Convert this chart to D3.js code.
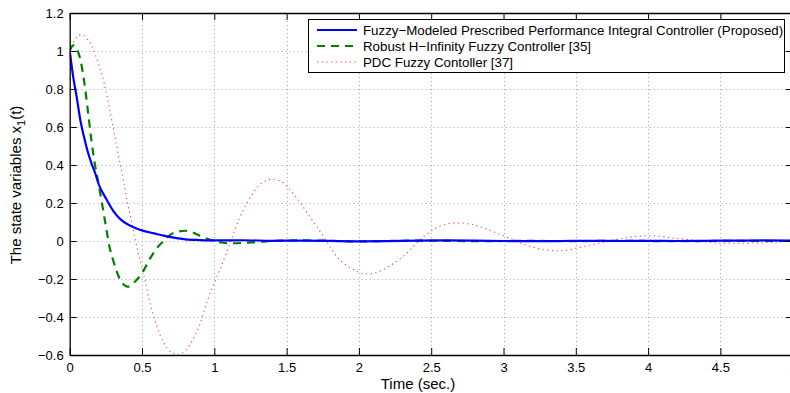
<!DOCTYPE html>
<html><head><meta charset="utf-8">
<script src="https://cdn.jsdelivr.net/npm/d3@7"></script>
<style>
html,body{margin:0;padding:0;background:#fff;}
svg{display:block;font-family:"Liberation Sans",Arial,Helvetica,sans-serif;}
</style></head><body>
<svg id="chart" width="790" height="393"></svg>
<script>
// ---- data ----
const xTicks = [0, 0.5, 1, 1.5, 2, 2.5, 3, 3.5, 4, 4.5, 5];
const yTicks = [-0.6, -0.4, -0.2, 0, 0.2, 0.4, 0.6, 0.8, 1, 1.2];
const seriesNames = [
  "Fuzzy\u2212Modeled Prescribed Performance Integral Controller (Proposed)",
  "Robust H\u2212Infinity Fuzzy Controller [35]",
  "PDC Fuzzy Contoller [37]"
];
const blueT = [0,0.025,0.05,0.075,0.1,0.125,0.15,0.175,0.2,0.25,0.3,0.35,0.4,0.45,0.5,0.55,0.6,0.65,0.7,0.75,0.8,0.9,1.0,1.2,1.4,1.6,1.8,2.0,2.2,2.4,2.6,2.8,3.0,3.2,3.4,3.6,3.8,4.0,4.2,4.4,4.6,4.8,5.0];
const blueV = [1.0,0.86,0.75,0.63,0.545,0.47,0.41,0.36,0.30,0.225,0.16,0.115,0.088,0.07,0.056,0.046,0.037,0.028,0.02,0.014,0.009,0.005,0.003,0.004,0.001,0.002,0.001,-0.002,-0.001,0.002,0.003,0.002,0.0,-0.001,0.0,0.001,0.0,0.001,0.0,0.001,0.002,0.003,0.002];
const greenT = [0,0.025,0.05,0.075,0.1,0.125,0.15,0.175,0.2,0.225,0.25,0.275,0.3,0.325,0.35,0.375,0.4,0.425,0.45,0.5,0.55,0.6,0.65,0.7,0.75,0.8,0.85,0.9,0.95,1.0,1.05,1.1,1.2,1.3,1.4,1.6,1.8,2.0,2.2,2.4,2.6,2.8,3.0,3.2,3.4,3.6,3.8,4.0,4.2,4.4,4.6,4.8,5.0];
const greenV = [1.0,1.03,1.01,0.95,0.84,0.69,0.53,0.40,0.30,0.19,0.08,-0.03,-0.10,-0.16,-0.205,-0.23,-0.24,-0.235,-0.215,-0.17,-0.10,-0.04,0.0,0.035,0.05,0.054,0.045,0.028,0.012,0.0,-0.008,-0.012,-0.01,-0.005,0.0,0.003,0.001,-0.002,0.0,0.002,0.001,-0.001,0.0,0.001,-0.001,0.0,0.001,0.0,-0.001,0.0,0.001,0.0,0.0];
const redT = [0,0.025,0.05,0.075,0.1,0.125,0.15,0.175,0.2,0.225,0.25,0.275,0.3,0.325,0.35,0.375,0.4,0.425,0.45,0.475,0.5,0.525,0.55,0.575,0.6,0.625,0.65,0.675,0.7,0.725,0.75,0.775,0.8,0.85,0.9,0.95,1.0,1.05,1.1,1.15,1.2,1.25,1.3,1.35,1.4,1.45,1.5,1.55,1.6,1.65,1.7,1.75,1.8,1.85,1.9,1.95,2.0,2.05,2.1,2.15,2.2,2.25,2.3,2.35,2.4,2.45,2.5,2.55,2.6,2.65,2.7,2.75,2.8,2.85,2.9,2.95,3.0,3.05,3.1,3.15,3.2,3.25,3.3,3.35,3.4,3.45,3.5,3.55,3.6,3.65,3.7,3.75,3.8,3.85,3.9,3.95,4.0,4.05,4.1,4.15,4.2,4.25,4.3,4.35,4.4,4.45,4.5,4.6,4.7,4.8,4.9,5.0];
const redV = [1.0,1.045,1.075,1.085,1.08,1.06,1.03,0.985,0.93,0.87,0.79,0.70,0.60,0.50,0.40,0.305,0.20,0.11,0.02,-0.065,-0.14,-0.22,-0.31,-0.38,-0.44,-0.495,-0.535,-0.565,-0.585,-0.595,-0.597,-0.59,-0.577,-0.52,-0.44,-0.32,-0.22,-0.13,-0.03,0.075,0.163,0.23,0.285,0.315,0.325,0.318,0.29,0.245,0.195,0.14,0.085,0.03,-0.03,-0.085,-0.12,-0.145,-0.165,-0.174,-0.17,-0.157,-0.137,-0.113,-0.085,-0.05,-0.01,0.025,0.052,0.075,0.088,0.094,0.095,0.091,0.085,0.072,0.058,0.042,0.028,0.012,-0.005,-0.018,-0.032,-0.042,-0.048,-0.051,-0.051,-0.047,-0.038,-0.03,-0.022,-0.014,-0.007,0.002,0.01,0.017,0.023,0.026,0.028,0.027,0.023,0.018,0.013,0.01,0.006,0.002,-0.004,-0.009,-0.011,-0.012,-0.011,-0.009,-0.005,-0.002];

// ---- layout ----
const L = 69.7, R = 792.7, T = 13, B = 355;
const svg = d3.select("#chart");
const x = d3.scaleLinear().domain([0, 5]).range([L, R]);
const y = d3.scaleLinear().domain([-0.6, 1.2]).range([B, T]);
const fmt = v => (v < 0 ? "\u2212" : "") + String(Math.abs(Math.round(v*10)/10));

// grid
const grid = svg.append("g").attr("stroke", "#a8a8a8").attr("stroke-width", 1).attr("stroke-dasharray", "1,3");
grid.selectAll(".gx").data(xTicks.filter(d => d > 0 && d < 5)).enter().append("line")
  .attr("x1", d => Math.round(x(d)) + 0.5).attr("x2", d => Math.round(x(d)) + 0.5)
  .attr("y1", T).attr("y2", B);
grid.selectAll(".gy").data(yTicks.filter(d => d > -0.6 && d < 1.2)).enter().append("line")
  .attr("y1", d => Math.round(y(d)) + 0.5).attr("y2", d => Math.round(y(d)) + 0.5)
  .attr("x1", L).attr("x2", R);

// curves
svg.append("defs").append("clipPath").attr("id", "clip").append("rect")
  .attr("x", L).attr("y", T - 1).attr("width", R - L).attr("height", B - T + 2);
const line = d3.line().x(d => x(d[0])).y(d => y(d[1])).curve(d3.curveMonotoneX);
const plot = svg.append("g").attr("clip-path", "url(#clip)");
plot.append("path").datum(redT.map((t, i) => [t, redV[i]])).attr("d", line)
  .attr("fill", "none").attr("stroke", "#ff2020").attr("stroke-width", 1.1).attr("stroke-dasharray", "1.2,3.5").attr("opacity", 0.85);
plot.append("path").datum(greenT.map((t, i) => [t, greenV[i]])).attr("d", line)
  .attr("fill", "none").attr("stroke", "#008000").attr("stroke-width", 2.2).attr("stroke-dasharray", "8,6");
plot.append("path").datum(blueT.map((t, i) => [t, blueV[i]])).attr("d", line)
  .attr("fill", "none").attr("stroke", "#0000ff").attr("stroke-width", 2.2);

// axes
const tickLen = 7;
const ax = svg.append("g").attr("font-size", 13).attr("fill", "#000");
const xAxisB = d3.axisBottom(x).tickValues(xTicks).tickSizeInner(-tickLen).tickSizeOuter(0).tickPadding(7.5).tickFormat(fmt);
const xAxisT = d3.axisTop(x).tickValues(xTicks).tickSizeInner(-tickLen).tickSizeOuter(0).tickFormat("");
const yAxisL = d3.axisLeft(y).tickValues(yTicks).tickSizeInner(-tickLen).tickSizeOuter(0).tickPadding(6).tickFormat(fmt);
const yAxisR = d3.axisRight(y).tickValues(yTicks).tickSizeInner(-tickLen).tickSizeOuter(0).tickFormat("");
function style(g){ g.selectAll("text").attr("font-family","'Liberation Sans',Arial,sans-serif").attr("font-size",13).attr("fill","#000");
  g.selectAll("line").attr("stroke","#000"); g.select(".domain").attr("stroke","#000"); }
ax.append("g").attr("transform", `translate(0,${B})`).call(xAxisB).call(style);
ax.append("g").attr("transform", `translate(0,${T})`).call(xAxisT).call(style);
ax.append("g").attr("transform", `translate(${L},0)`).call(yAxisL).call(style);
ax.append("g").attr("transform", `translate(${R},0)`).call(yAxisR).call(style);
svg.selectAll(".domain").attr("stroke-width", 1.3);

// labels
svg.append("text").attr("x", 418).attr("y", 389).attr("text-anchor", "middle")
  .attr("font-size", 15).text("Time (sec.)");
const yl = svg.append("text").attr("transform", "translate(21,185) rotate(-90)")
  .attr("text-anchor", "middle").attr("font-size", 15);
yl.append("tspan").text("The state variables x");
yl.append("tspan").attr("font-size", 11).attr("dy", 4).text("1");
yl.append("tspan").attr("dy", -4).text("(t)");

// legend
const lg = svg.append("g");
lg.append("rect").attr("x", 308.5).attr("y", 19.5).attr("width", 476).attr("height", 53)
  .attr("fill", "#fff").attr("stroke", "#000").attr("stroke-width", 1);
const lgStyles = [
  {c: "#0000ff", w: 2.2, d: null, o: 1},
  {c: "#008000", w: 2.2, d: "8,6", o: 1},
  {c: "#ff2020", w: 1.1, d: "1.2,3.5", o: 0.85}
];
seriesNames.forEach((n, i) => {
  const yy = 30 + i * 16;
  lg.append("line").attr("x1", 317).attr("x2", 357).attr("y1", yy).attr("y2", yy)
    .attr("stroke", lgStyles[i].c).attr("stroke-width", lgStyles[i].w)
    .attr("stroke-dasharray", lgStyles[i].d).attr("opacity", lgStyles[i].o);
  lg.append("text").attr("x", 363).attr("y", yy + 4.5).attr("font-size", 13.3).text(n);
});
</script>
</body></html>
